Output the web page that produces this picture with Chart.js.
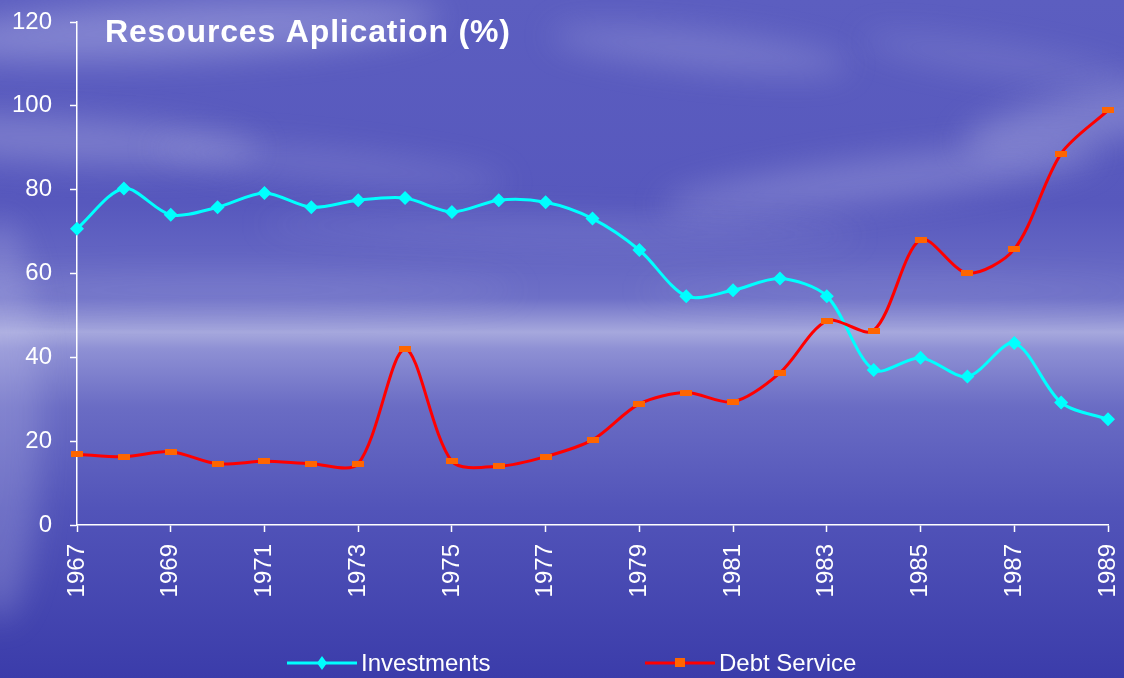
<!DOCTYPE html>
<html>
<head>
<meta charset="utf-8">
<title>Resources Aplication (%)</title>
<script src="https://cdn.jsdelivr.net/npm/chart.js@4.4.1/dist/chart.umd.min.js"></script>
<style>
  html, body { margin: 0; padding: 0; background: #4a4cb4; }
  #wrap { width: 1124px; height: 678px; position: relative; }
</style>
</head>
<body>
<div id="wrap"><canvas id="chart" width="1124" height="678"></canvas></div>
<script>
// Chart data
const years = ['1967', '1968', '1969', '1970', '1971', '1972', '1973', '1974', '1975', '1976', '1977', '1978',
  '1979', '1980', '1981', '1982', '1983', '1984', '1985', '1986', '1987', '1988', '1989'];
const investments = [70.7, 80.3, 74.0, 75.8, 79.2, 75.8, 77.5, 78.0, 74.7, 77.5, 77.0, 73.1,
  65.6, 54.6, 56.0, 58.8, 54.6, 37.0, 39.9, 35.4, 43.4, 29.2, 25.2];
const debtService = [16.9, 16.3, 17.5, 14.6, 15.2, 14.6, 14.6, 41.9, 15.2, 14.0, 16.3, 20.3,
  28.9, 31.6, 29.4, 36.3, 48.7, 46.4, 68.1, 60.1, 65.8, 88.6, 98.9];
const seriesNames = ['Investments', 'Debt Service'];
const yTicks = [0, 20, 40, 60, 80, 100, 120];
const chartTitle = 'Resources Aplication (%)';

const FONT = '"Liberation Sans", Arial, sans-serif';

// small orange dash used as the debt service marker
function makeDash() {
  const c = document.createElement('canvas');
  c.width = 12;
  c.height = 6;
  const g = c.getContext('2d');
  g.fillStyle = '#ff6600';
  g.fillRect(0, 0, 12, 6);
  return c;
}
const dash = makeDash();

// sky and sea backdrop
function paintBackground(ctx, w, h) {
  const grad = ctx.createLinearGradient(0, 0, 0, h);
  grad.addColorStop(0, '#5c5ec0');
  grad.addColorStop(0.3, '#5758bd');
  grad.addColorStop(0.44, '#6e70c7');
  grad.addColorStop(0.49, '#a6a8dd');
  grad.addColorStop(0.515, '#8e90d4');
  grad.addColorStop(0.6, '#6a6cc4');
  grad.addColorStop(0.75, '#5254b9');
  grad.addColorStop(1, '#3b3caa');
  ctx.fillStyle = grad;
  ctx.fillRect(0, 0, w, h);

  const clouds = [
    [180, 30, 260, 28, -0.05, 0.35],
    [60, 140, 200, 22, 0.05, 0.3],
    [330, 165, 180, 14, 0.1, 0.2],
    [700, 50, 150, 18, 0.1, 0.25],
    [880, 180, 220, 22, -0.12, 0.28],
    [1080, 120, 120, 26, -0.2, 0.3],
    [1000, 60, 140, 14, 0.15, 0.18],
    [560, 230, 300, 12, 0.02, 0.15],
    [220, 290, 300, 12, 0, 0.18],
    [900, 290, 260, 10, 0, 0.15],
    [0, 420, 40, 200, 0, 0.25]
  ];
  ctx.save();
  ctx.filter = 'blur(16px)';
  clouds.forEach(c => {
    ctx.fillStyle = `rgba(205,205,240,${c[5]})`;
    ctx.beginPath();
    ctx.ellipse(c[0], c[1], c[2], c[3], c[4], 0, Math.PI * 2);
    ctx.fill();
  });
  ctx.restore();
}

const backdrop = {
  id: 'backdrop',
  beforeDraw(chart) {
    paintBackground(chart.ctx, chart.width, chart.height);
  }
};

// title over the plot and the legend at the bottom
const overlay = {
  id: 'overlay',
  afterDraw(chart) {
    const ctx = chart.ctx;
    ctx.save();
    ctx.fillStyle = '#ffffff';
    ctx.font = 'bold 32px ' + FONT;
    ctx.textBaseline = 'alphabetic';
    ctx.textAlign = 'left';
    const natural = ctx.measureText(chartTitle).width;
    const gap = Math.max(0, (405 - natural) / (chartTitle.length - 1));
    ctx.letterSpacing = gap.toFixed(2) + 'px';
    ctx.fillText(chartTitle, 105, 42);
    ctx.letterSpacing = '0px';

    const ly = 663;
    const items = [
      {x: 287, color: '#00ffff', name: seriesNames[0]},
      {x: 645, color: '#ff0000', name: seriesNames[1]}
    ];
    items.forEach((it, i) => {
      ctx.strokeStyle = it.color;
      ctx.lineWidth = 3;
      ctx.beginPath();
      ctx.moveTo(it.x, ly);
      ctx.lineTo(it.x + 70, ly);
      ctx.stroke();
      const mx = it.x + 35;
      if (i === 0) {
        ctx.fillStyle = '#00ffff';
        ctx.beginPath();
        ctx.moveTo(mx, ly - 7);
        ctx.lineTo(mx + 5, ly);
        ctx.lineTo(mx, ly + 7);
        ctx.lineTo(mx - 5, ly);
        ctx.closePath();
        ctx.fill();
      } else {
        ctx.fillStyle = '#ff6600';
        ctx.fillRect(mx - 5, ly - 5, 10, 9);
      }
      ctx.fillStyle = '#ffffff';
      ctx.font = '24px ' + FONT;
      ctx.textBaseline = 'middle';
      ctx.fillText(it.name, it.x + 74, ly + 1);
    });
    ctx.restore();
  }
};

new Chart(document.getElementById('chart'), {
  type: 'line',
  data: {
    labels: years,
    datasets: [{
      label: seriesNames[0],
      data: investments,
      borderColor: '#00ffff',
      backgroundColor: '#00ffff',
      borderWidth: 3,
      tension: 0.3,
      pointStyle: 'rectRot',
      pointRadius: 7,
      pointBorderWidth: 0,
      pointBackgroundColor: '#00ffff',
      order: 1
    }, {
      label: seriesNames[1],
      data: debtService,
      borderColor: '#ff0000',
      backgroundColor: '#ff6600',
      borderWidth: 3,
      tension: 0.3,
      pointStyle: dash,
      pointRadius: 6,
      order: 0
    }]
  },
  options: {
    responsive: false,
    animation: false,
    layout: {padding: {top: 22, right: 16, left: 0, bottom: 0}},
    plugins: {
      legend: {display: false},
      title: {display: false},
      tooltip: {enabled: false}
    },
    scales: {
      x: {
        offset: false,
        afterFit: scale => {
          scale.height = 153;
          scale.paddingLeft = 0;
          scale.paddingRight = 0;
        },
        border: {color: '#ffffff', width: 1.5},
        grid: {
          drawOnChartArea: false,
          tickLength: 7,
          tickWidth: 1.5,
          tickColor: ctx => (ctx.index % 2 ? 'rgba(0,0,0,0)' : '#ffffff')
        },
        ticks: {
          autoSkip: false,
          maxRotation: 90,
          minRotation: 90,
          padding: 12,
          color: '#ffffff',
          font: {family: FONT, size: 24},
          callback: (v, i) => (i % 2 ? '' : years[i])
        }
      },
      y: {
        min: yTicks[0],
        max: yTicks[yTicks.length - 1],
        afterFit: scale => {
          scale.width = 77;
          scale.paddingTop = 0;
          scale.paddingBottom = 0;
        },
        afterBuildTicks: scale => { scale.ticks = yTicks.map(v => ({value: v})); },
        border: {color: '#ffffff', width: 1.5},
        grid: {drawOnChartArea: false, tickLength: 7, tickWidth: 1.5, tickColor: '#ffffff'},
        ticks: {
          padding: 18,
          color: '#ffffff',
          font: {family: FONT, size: 24}
        }
      }
    }
  },
  plugins: [backdrop, overlay]
});
</script>
</body>
</html>
